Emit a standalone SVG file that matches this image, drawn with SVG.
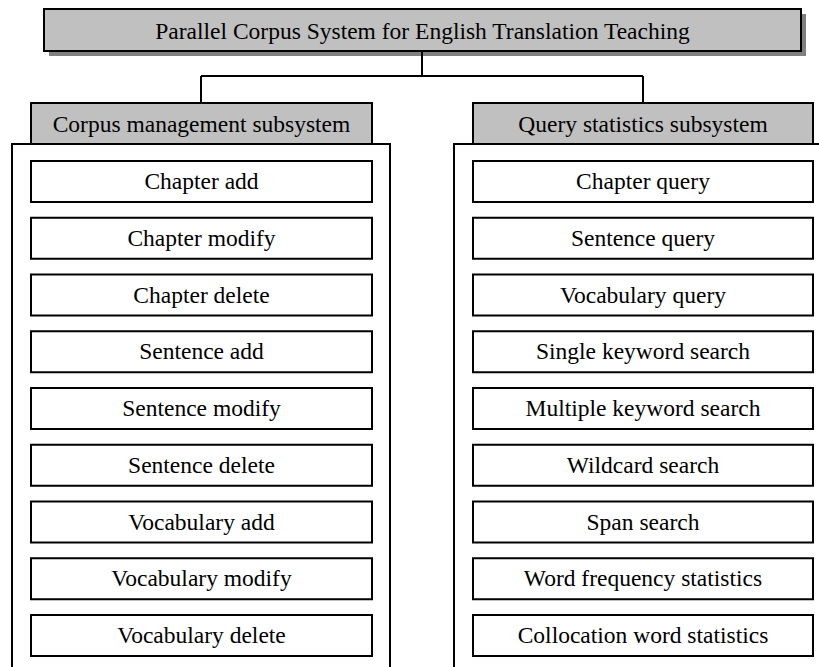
<svg xmlns="http://www.w3.org/2000/svg" width="819" height="667" viewBox="0 0 819 667">
<style>
text{font-family:"Liberation Serif","Times New Roman",serif;font-size:23.5px;fill:#000;text-anchor:middle}
.box{fill:#fff;stroke:#000;stroke-width:2}
.hdr{fill:#c0c0c0;stroke:#000;stroke-width:2}
.cont{fill:none;stroke:#000;stroke-width:2}
.conn{fill:none;stroke:#000;stroke-width:2}
</style>
<rect x="0" y="0" width="819" height="667" fill="#fff"/>
<g id="title">
<rect x="49" y="14" width="757" height="42" fill="#808080"/>
<rect class="hdr" x="44" y="9" width="757" height="42"/>
<text x="422.5" y="38.5">Parallel Corpus System for English Translation Teaching</text>
</g>
<g id="connectors">
<path class="conn" d="M422,51 V76 M201,76 H643 M201,76 V103 M643,76 V103"/>
</g>
<g id="left-container">
<rect class="cont" x="12" y="144" width="378" height="540"/>
</g>
<g id="right-container">
<rect class="cont" x="454" y="144" width="380" height="540"/>
</g>
<g id="corpus-management">
<rect class="hdr" x="31" y="103" width="341" height="41"/>
<text x="201.5" y="132">Corpus management subsystem</text>
</g>
<g id="query-statistics">
<rect class="hdr" x="473" y="103" width="340" height="41"/>
<text x="643" y="132">Query statistics subsystem</text>
</g>
<g id="chapter-add"><rect class="box" x="31" y="161" width="341" height="41"/><text x="201.5" y="189">Chapter add</text></g>
<g id="chapter-modify"><rect class="box" x="31" y="217.75" width="341" height="41"/><text x="201.5" y="245.75">Chapter modify</text></g>
<g id="chapter-delete"><rect class="box" x="31" y="274.5" width="341" height="41"/><text x="201.5" y="302.5">Chapter delete</text></g>
<g id="sentence-add"><rect class="box" x="31" y="331.25" width="341" height="41"/><text x="201.5" y="359.25">Sentence add</text></g>
<g id="sentence-modify"><rect class="box" x="31" y="388" width="341" height="41"/><text x="201.5" y="416">Sentence modify</text></g>
<g id="sentence-delete"><rect class="box" x="31" y="444.75" width="341" height="41"/><text x="201.5" y="472.75">Sentence delete</text></g>
<g id="vocabulary-add"><rect class="box" x="31" y="501.5" width="341" height="41"/><text x="201.5" y="529.5">Vocabulary add</text></g>
<g id="vocabulary-modify"><rect class="box" x="31" y="558.25" width="341" height="41"/><text x="201.5" y="586.25">Vocabulary modify</text></g>
<g id="vocabulary-delete"><rect class="box" x="31" y="615" width="341" height="41"/><text x="201.5" y="643">Vocabulary delete</text></g>
<g id="chapter-query"><rect class="box" x="473" y="161" width="340" height="41"/><text x="643" y="189">Chapter query</text></g>
<g id="sentence-query"><rect class="box" x="473" y="217.75" width="340" height="41"/><text x="643" y="245.75">Sentence query</text></g>
<g id="vocabulary-query"><rect class="box" x="473" y="274.5" width="340" height="41"/><text x="643" y="302.5">Vocabulary query</text></g>
<g id="single-keyword-search"><rect class="box" x="473" y="331.25" width="340" height="41"/><text x="643" y="359.25">Single keyword search</text></g>
<g id="multiple-keyword-search"><rect class="box" x="473" y="388" width="340" height="41"/><text x="643" y="416">Multiple keyword search</text></g>
<g id="wildcard-search"><rect class="box" x="473" y="444.75" width="340" height="41"/><text x="643" y="472.75">Wildcard search</text></g>
<g id="span-search"><rect class="box" x="473" y="501.5" width="340" height="41"/><text x="643" y="529.5">Span search</text></g>
<g id="word-frequency-statistics"><rect class="box" x="473" y="558.25" width="340" height="41"/><text x="643" y="586.25">Word frequency statistics</text></g>
<g id="collocation-word-statistics"><rect class="box" x="473" y="615" width="340" height="41"/><text x="643" y="643">Collocation word statistics</text></g>
</svg>
